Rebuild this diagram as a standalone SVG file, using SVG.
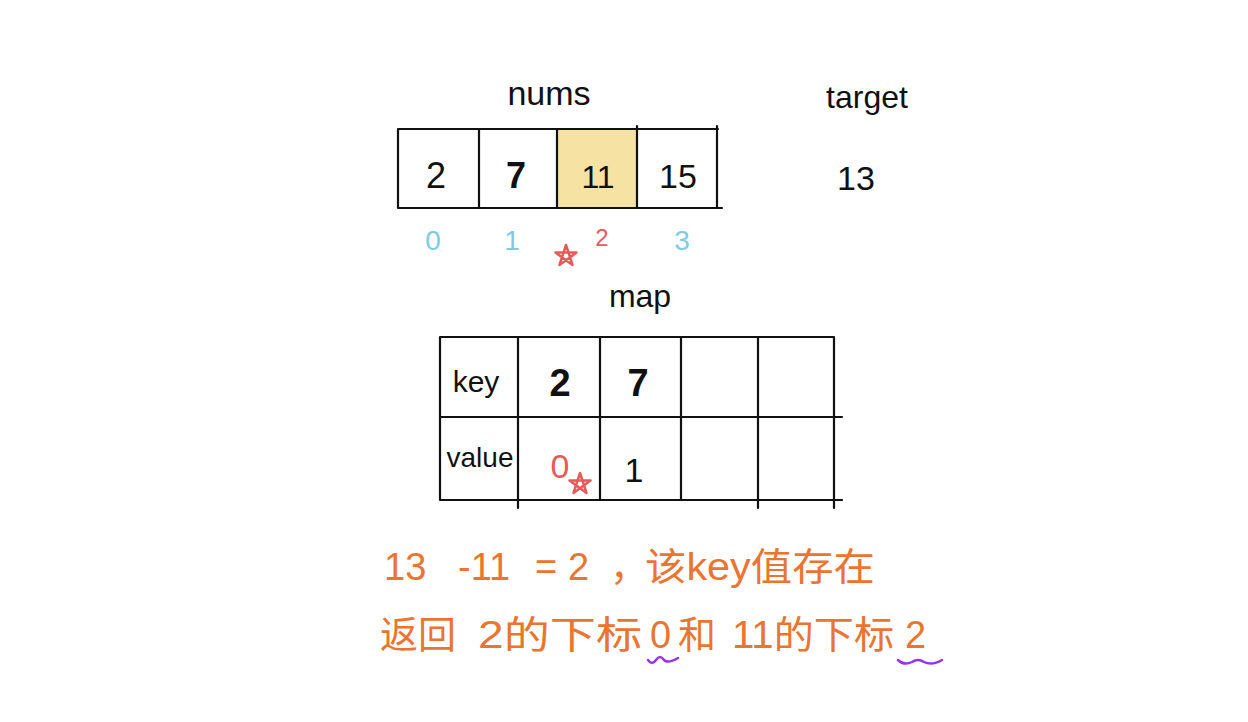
<svg xmlns="http://www.w3.org/2000/svg" width="1248" height="722" viewBox="0 0 1248 722">
<style>
.ln{stroke:#111;stroke-width:2.2;fill:none;stroke-linecap:round}
.t{font-family:"Liberation Sans","Noto Sans CJK SC",sans-serif;fill:#111;text-anchor:middle}
.blue{fill:#7ecbe4}
.red{fill:#e85a5a}
.or{font-family:"Liberation Sans","Noto Sans CJK SC",sans-serif;fill:#ea7530;font-size:38px}
.sq{stroke:#9a32ea;stroke-width:2.5;fill:none;stroke-linecap:round}
.star{stroke:#e85a5a;stroke-width:2.5;fill:none;stroke-linejoin:round}
</style>
<rect width="1248" height="722" fill="#fff"/>
<g id="nums">
<text class="t" x="549" y="105" font-size="34">nums</text>
<rect x="557" y="129" width="80" height="79" fill="#f6e3a4"/>
<path class="ln" d="M398 129H718M398 208H722M398 129V208M479 129V208M557 129V208M637 126V208M717 126V208"/>
<text class="t" x="436" y="188" font-size="36">2</text>
<text class="t" x="516" y="188" font-size="36" font-weight="bold">7</text>
<text class="t" x="598" y="188" font-size="32">11</text>
<text class="t" x="678" y="188" font-size="34">15</text>
<text class="t blue" x="433" y="250" font-size="28">0</text>
<text class="t blue" x="512" y="250" font-size="28">1</text>
<text class="t red" x="602" y="246" font-size="24">2</text>
<text class="t blue" x="682" y="250" font-size="28">3</text>
<path class="star" d="M566 245L572.5 264.9L555.5 252.6L576.5 252.6L559.5 264.9Z"/>
</g>
<g id="target">
<text class="t" x="867" y="108" font-size="32">target</text>
<text class="t" x="856" y="190" font-size="34">13</text>
</g>
<g id="map">
<text class="t" x="640" y="307" font-size="32">map</text>
<path class="ln" d="M440 337H834M440 417H842M440 500H842M440 337V500M518 337V508M600 337V500M681 337V500M758 337V508M834 337V508"/>
<text class="t" x="476" y="392" font-size="30">key</text>
<text class="t" x="480" y="467" font-size="28">value</text>
<text class="t" x="560" y="396" font-size="38" font-weight="bold">2</text>
<text class="t" x="638" y="396" font-size="38" font-weight="bold">7</text>
<text class="t red" x="560" y="478" font-size="34">0</text>
<path class="star" d="M580 473L586.5 492.9L569.5 480.6L590.5 480.6L573.5 492.9Z"/>
<text class="t" x="634" y="482" font-size="34">1</text>
</g>
<g id="result">
<text class="or" x="384" y="580">13</text>
<text class="or" x="458" y="580">-11</text>
<text class="or" x="535" y="580">=</text>
<text class="or" x="568" y="580" font-size="46">2</text>
<text class="or" x="610" y="580">，</text>
<text class="or" x="645" y="580" textLength="230" lengthAdjust="spacingAndGlyphs">该key值存在</text>
<text class="or" x="380" y="648">返回</text>
<text class="or" x="478" y="648" textLength="164" lengthAdjust="spacingAndGlyphs">2的下标</text>
<text class="or" x="650" y="648">0</text>
<text class="or" x="678" y="648">和</text>
<text class="or" x="732" y="648" textLength="162" lengthAdjust="spacingAndGlyphs">11的下标</text>
<text class="or" x="905" y="648" font-size="44">2</text>
</g>
<g id="connectors">
<path class="sq" d="M648 660Q652 666 656 660Q660 654 664 660Q668 664 678 658"/>
<path class="sq" d="M898 660Q904 666 912 662Q918 658 924 662Q932 666 942 660"/>
</g>
</svg>
